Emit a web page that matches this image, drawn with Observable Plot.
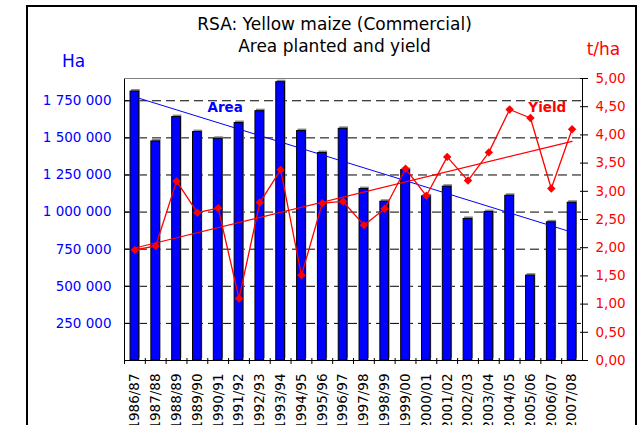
<!DOCTYPE html>
<html><head><meta charset="utf-8">
<script src="https://cdn.jsdelivr.net/npm/d3@7"></script>
<script src="https://cdn.jsdelivr.net/npm/@observablehq/plot@0.6"></script>
<style>
body{margin:0;background:#fff;font-family:"DejaVu Sans",sans-serif;}
#wrap{position:relative;width:641px;height:425px;overflow:hidden;background:#fff;}
#border{position:absolute;left:26px;top:5px;width:607px;height:460px;border:2px solid #000;}
#chart{position:absolute;left:0;top:0;}
</style></head><body>
<div id="wrap"><div id="border"></div><div id="chart"></div></div>
<script>
const seasons = ["1986/87","1987/88","1988/89","1989/90","1990/91","1991/92","1992/93","1993/94","1994/95","1995/96","1996/97","1997/98","1998/99","1999/00","2000/01","2001/02","2002/03","2003/04","2004/05","2005/06","2006/07","2007/08"];
const areaHa = [1812000,1476000,1640000,1539000,1494000,1600000,1680000,1875000,1546000,1398000,1561000,1155000,1070000,1283000,1106000,1171000,954000,1000000,1110000,572000,931000,1063000];
const yieldTha = [1.96,2.03,3.18,2.62,2.70,1.10,2.80,3.38,1.51,2.79,2.82,2.40,2.69,3.40,2.92,3.61,3.19,3.69,4.45,4.30,3.05,4.10];
const leftTicks = [250000,500000,750000,1000000,1250000,1500000,1750000];
const rightTicks = [0,0.5,1,1.5,2,2.5,3,3.5,4,4.5,5];
const titleLines = ["RSA: Yellow maize (Commercial)","Area planted and yield"];
const leftUnit = "Ha", rightUnit = "t/ha";
const seriesLabels = ["Area","Yield"];

const yMax = 1900000, rightMax = 5, k = yMax / rightMax;
const W = 641, H = 425, mL = 124, mR = 59, mT = 78, mB = 65;
const halfStep = (W - mL - mR) / seasons.length / 2;

const data = seasons.map((s, i) => ({season: s, area: areaHa[i], yld: yieldTha[i]}));
function fit(vals) {
  const xs = d3.range(vals.length), mx = d3.mean(xs), my = d3.mean(vals);
  const b = d3.sum(xs, (x, i) => (x - mx) * (vals[i] - my)) / d3.sum(xs, x => (x - mx) ** 2);
  return xs.map(x => my + b * (x - mx));
}
const aFit = fit(areaHa), yFit = fit(yieldTha);
const trendA = [{season: seasons[0], v: aFit[0]}, {season: seasons[seasons.length-1], v: aFit[aFit.length-1]}];
const trendY = [{season: seasons[0], v: yFit[0] * k}, {season: seasons[seasons.length-1], v: yFit[yFit.length-1] * k}];
const fmtL = v => d3.format(",")(v).replace(/,/g, " ");
const fmtR = v => d3.format(".2f")(v / k).replace(".", ",");

const plot = Plot.plot({
  width: W, height: H, marginLeft: mL, marginRight: mR, marginTop: mT, marginBottom: mB,
  style: {fontFamily: "DejaVu Sans", fontSize: "13.5px", background: "transparent", overflow: "visible"},
  x: {domain: seasons, paddingInner: 0.58, paddingOuter: 0.29, round: false, axis: null},
  y: {domain: [0, yMax], axis: null},
  marks: [
    Plot.ruleY(leftTicks, {stroke: "#000", strokeDasharray: "9,5"}),
    Plot.barY(data, {x: "season", y: "area", fill: "#8a8a8a", dx: 1, dy: -2}),
    Plot.barY(data, {x: "season", y: "area", fill: "#0000FF", stroke: "#000", strokeWidth: 1}),
    Plot.line(trendA, {x: "season", y: "v", stroke: "#0000FF", strokeWidth: 1}),
    Plot.line(trendY, {x: "season", y: "v", stroke: "#FF0000", strokeWidth: 1.2}),
    Plot.line(data, {x: "season", y: d => d.yld * k, stroke: "#FF0000", strokeWidth: 1.3}),
    Plot.dot(data, {x: "season", y: d => d.yld * k, symbol: "diamond2", r: 3.8, fill: "#FF0000", stroke: "none"}),
    Plot.frame({stroke: "#000"}),
    Plot.ruleY([yMax], {stroke: "#808080"}),
    // left axis
    Plot.axisY(leftTicks, {anchor: "left", tickSize: 0, tickPadding: 13, tickFormat: fmtL, fill: "#0000FF", label: null}),
    Plot.axisY(leftTicks, {anchor: "left", tickSize: 5, dx: 5, tickFormat: () => "", stroke: "#000", label: null}),
    // right axis
    Plot.axisY(rightTicks.map(v => v * k), {anchor: "right", tickSize: 0, tickPadding: 13, tickFormat: fmtR, fill: "#FF0000", label: null}),
    Plot.axisY(rightTicks.map(v => v * k), {anchor: "right", tickSize: 8, dx: -3, tickFormat: () => "", stroke: "#000", label: null}),
    // x axis
    Plot.axisX({anchor: "bottom", tickSize: 0, tickPadding: 13, tickRotate: -90, fill: "#000", label: null}),
    Plot.axisX({anchor: "bottom", tickSize: 6, dx: -halfStep, dy: -2, tickFormat: () => "", stroke: "#000", label: null}),
    // labels
    Plot.text([titleLines[0]], {text: d => d, frameAnchor: "top", textAnchor: "middle", lineAnchor: "middle", dx: -19, dy: -54, fontSize: 17, fill: "#000"}),
    Plot.text([titleLines[1]], {text: d => d, frameAnchor: "top", textAnchor: "middle", lineAnchor: "middle", dx: -19, dy: -32, fontSize: 17, fill: "#000"}),
    Plot.text([leftUnit], {text: d => d, frameAnchor: "top-left", textAnchor: "middle", lineAnchor: "middle", dx: -51, dy: -17, fontSize: 17, fill: "#0000FF"}),
    Plot.text([rightUnit], {text: d => d, frameAnchor: "top-right", textAnchor: "middle", lineAnchor: "middle", dx: 21, dy: -29, fontSize: 17, fill: "#FF0000"}),
    Plot.text([{season: "1990/91", v: 1705000, t: seriesLabels[0]}], {x: "season", y: "v", text: "t", dx: 7, fontSize: 13.5, fontWeight: "bold", fill: "#0000FF"}),
    Plot.text([{season: "2006/07", v: 1705000, t: seriesLabels[1]}], {x: "season", y: "v", text: "t", dx: -4, fontSize: 13.5, fontWeight: "bold", fill: "#FF0000"})
  ]
});
document.getElementById("chart").appendChild(plot);
</script>
</body></html>
